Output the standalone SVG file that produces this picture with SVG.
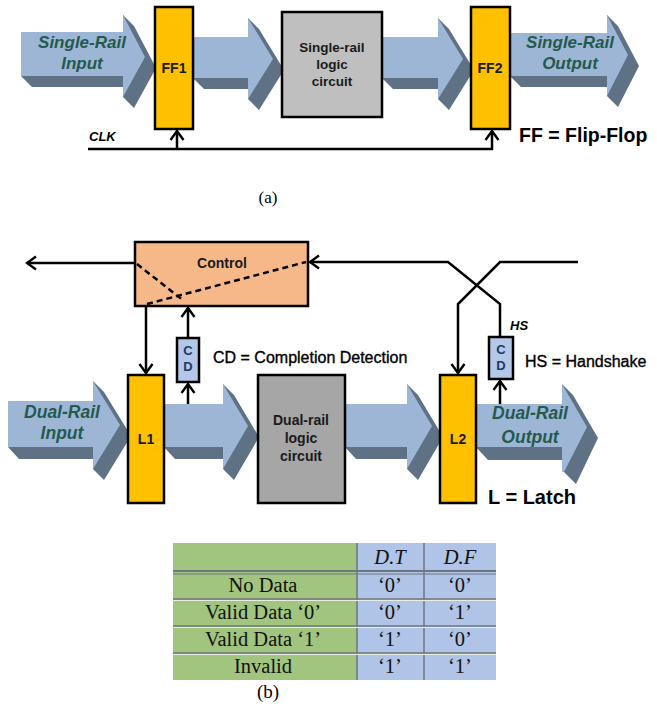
<svg xmlns="http://www.w3.org/2000/svg" width="657" height="707" viewBox="0 0 657 707">
<style>
.front{fill:#9DB6D6}
.side{fill:#5E7185}
.arrtxt{font-family:"Liberation Sans",Arial,sans-serif;font-weight:bold;font-style:italic;fill:#245A4E;text-anchor:middle}
.lab{font-family:"Liberation Sans",Arial,sans-serif;font-weight:bold;fill:#1a1a1a;text-anchor:middle}
.latch{fill:#FFC000;stroke:#000;stroke-width:2.5}
.conn{fill:none;stroke:#000;stroke-width:2.5}
.dash{fill:none;stroke:#000;stroke-width:2.5;stroke-dasharray:6,4}
.leg{font-family:"Liberation Sans",Arial,sans-serif;fill:#000}
.cd{fill:#B4C7E7;stroke:#000;stroke-width:2.5}
.cdt{font-family:"Liberation Sans",Arial,sans-serif;font-weight:bold;font-size:13px;fill:#1F3864;text-anchor:middle}
.tt{font-family:"Liberation Serif","Times New Roman",serif;font-size:20.5px;fill:#111;text-anchor:middle}
</style>
<defs>
<marker id="ah" viewBox="-11 -8 13 16" markerWidth="13" markerHeight="16" refX="0" refY="0" orient="auto" markerUnits="userSpaceOnUse">
<path d="M-9,-6.5 L0,0 L-9,6.5" fill="none" stroke="#000" stroke-width="2.4"/>
</marker>
</defs>

<!-- (a) arrows -->
<g id="arrow-a-in">
<path class="side" d="M21,32 L123,32 L123,15 L134,26 L156,68 L134,108 L123,97 L123,87 L32,87 L21,76 Z"/>
<path class="front" d="M21,32 L123,32 L123,15 L145,57 L123,97 L123,76 L21,76 Z"/>
<text class="arrtxt" x="82" y="48" font-size="17">Single-Rail</text>
<text class="arrtxt" x="82" y="69" font-size="17">Input</text>
</g>
<g id="arrow-a-1">
<path class="side" d="M193,37 L248,37 L248,18 L259,29 L284,70 L259,110 L248,99 L248,89 L204,89 L193,78 Z"/>
<path class="front" d="M193,37 L248,37 L248,18 L273,59 L248,99 L248,78 L193,78 Z"/>
</g>
<g id="arrow-a-2">
<path class="side" d="M382,37 L438,37 L438,18 L449,29 L474,70 L449,110 L438,99 L438,89 L393,89 L382,78 Z"/>
<path class="front" d="M382,37 L438,37 L438,18 L463,59 L438,99 L438,78 L382,78 Z"/>
</g>
<g id="arrow-a-out">
<path class="side" d="M510,33 L607,33 L607,15 L618,26 L639,66 L618,107 L607,96 L607,87 L521,87 L510,76 Z"/>
<path class="front" d="M510,33 L607,33 L607,15 L628,55 L607,96 L607,76 L510,76 Z"/>
<text class="arrtxt" x="570" y="48" font-size="17">Single-Rail</text>
<text class="arrtxt" x="570" y="69" font-size="17">Output</text>
</g>

<g id="ff1">
<rect class="latch" x="155" y="7" width="38" height="122"/>
<text class="lab" x="174" y="73" font-size="14">FF1</text>
</g>
<g id="logic-a">
<rect x="282" y="12" width="100" height="105" fill="#BFBFBF" stroke="#000" stroke-width="2.5"/>
<text class="lab" x="332" y="52" font-size="13.5">Single-rail</text>
<text class="lab" x="332" y="69" font-size="13.5">logic</text>
<text class="lab" x="332" y="86" font-size="13.5">circuit</text>
</g>
<g id="ff2">
<rect class="latch" x="471" y="7" width="39" height="122"/>
<text class="lab" x="490" y="73" font-size="14">FF2</text>
</g>

<g id="connectors-a">
<path class="conn" d="M88,149 L492,149 L492,131" marker-end="url(#ah)"/>
<path class="conn" d="M177,149 L177,131" marker-end="url(#ah)"/>
</g>
<text x="89" y="141" font-family="Liberation Sans,Arial,sans-serif" font-weight="bold" font-style="italic" font-size="13">CLK</text>
<text class="leg" x="519" y="142" font-size="19.5" font-weight="bold">FF = Flip-Flop</text>
<text x="268" y="203" font-family="Liberation Serif,Times New Roman,serif" font-size="17" text-anchor="middle">(a)</text>

<!-- (b) arrows -->
<g id="arrow-b-in">
<path class="side" d="M8,401 L93,401 L93,381 L104,392 L131,436 L104,480 L93,469 L93,459 L19,459 L8,447 Z"/>
<path class="front" d="M8,401 L93,401 L93,381 L120,425 L93,469 L93,447 L8,447 Z"/>
<text class="arrtxt" x="62" y="418" font-size="17.5">Dual-Rail</text>
<text class="arrtxt" x="62" y="439" font-size="17.5">Input</text>
</g>
<g id="arrow-b-1">
<path class="side" d="M164,404 L223,404 L223,384 L234,395 L259,437 L234,480 L223,469 L223,459 L175,459 L164,447 Z"/>
<path class="front" d="M164,404 L223,404 L223,384 L248,426 L223,469 L223,447 L164,447 Z"/>
</g>
<g id="arrow-b-2">
<path class="side" d="M345,404 L407,404 L407,384 L418,395 L443,437 L418,480 L407,469 L407,459 L356,459 L345,447 Z"/>
<path class="front" d="M345,404 L407,404 L407,384 L432,426 L407,469 L407,447 L345,447 Z"/>
</g>
<g id="arrow-b-out">
<path class="side" d="M476,404 L562,404 L562,384 L573,395 L598,438 L576,484 L564,472 L562,472 L562,460 L488,460 L476,447 Z"/>
<path class="front" d="M476,404 L562,404 L562,384 L587,427 L564,472 L562,472 L562,447 L476,447 Z"/>
<text class="arrtxt" x="530" y="419" font-size="17.5">Dual-Rail</text>
<text class="arrtxt" x="530" y="443" font-size="17.5">Output</text>
</g>

<g id="control">
<rect x="135" y="242" width="173" height="64" fill="#F6B889" stroke="#000" stroke-width="2.5"/>
<text class="lab" x="222" y="268" font-size="14">Control</text>
</g>
<g id="l1">
<rect class="latch" x="128" y="375" width="36" height="128"/>
<text class="lab" x="146" y="444" font-size="14">L1</text>
</g>
<g id="logic-b">
<rect x="258" y="375" width="87" height="128" fill="#A6A6A6" stroke="#000" stroke-width="2.5"/>
<text class="lab" x="301" y="425" font-size="14">Dual-rail</text>
<text class="lab" x="301" y="443" font-size="14">logic</text>
<text class="lab" x="301" y="461" font-size="14">circuit</text>
</g>
<g id="l2">
<rect class="latch" x="440" y="375" width="36" height="128"/>
<text class="lab" x="458" y="444" font-size="14">L2</text>
</g>
<g id="cd1">
<rect class="cd" x="177" y="338" width="22" height="44"/>
<text class="cdt" x="188" y="355">C</text>
<text class="cdt" x="188" y="371">D</text>
</g>
<g id="cd2">
<rect class="cd" x="489" y="337" width="24" height="42"/>
<text class="cdt" x="501" y="354">C</text>
<text class="cdt" x="501" y="370">D</text>
</g>

<g id="connectors-b">
<path class="conn" d="M135,263 L27,263" marker-end="url(#ah)"/>
<path class="conn" d="M146,306 L146,373" marker-end="url(#ah)"/>
<path class="conn" d="M188,338 L188,308" marker-end="url(#ah)"/>
<path class="conn" d="M188,404 L188,384" marker-end="url(#ah)"/>
<path class="conn" d="M500,337 L500,304 L448,262 L310,262" marker-end="url(#ah)"/>
<path class="conn" d="M578,262 L500,262 L458,304 L458,373" marker-end="url(#ah)"/>
<path class="conn" d="M500,404 L500,381" marker-end="url(#ah)"/>
<path class="dash" d="M137,264 L184,301"/>
<path class="dash" d="M147,304 L306,262"/>
</g>
<text x="510" y="330" font-family="Liberation Sans,Arial,sans-serif" font-weight="bold" font-style="italic" font-size="13">HS</text>
<text class="leg" x="213" y="363" font-size="16" stroke="#000" stroke-width="0.35">CD = Completion Detection</text>
<text class="leg" x="525" y="367" font-size="16" stroke="#000" stroke-width="0.35">HS = Handshake</text>
<text class="leg" x="488" y="504" font-size="20" font-weight="bold">L = Latch</text>

<g id="table">
<rect x="173" y="543" width="184" height="137" fill="#A1C47E"/>
<rect x="357" y="543" width="139" height="137" fill="#AFC4E6"/>
<g stroke="#6E7780" stroke-width="1.5">
<line x1="173" y1="571" x2="496" y2="571" stroke-width="2"/>
<line x1="173" y1="574" x2="496" y2="574" stroke-width="1"/>
<line x1="173" y1="599" x2="496" y2="599"/>
<line x1="173" y1="626" x2="496" y2="626"/>
<line x1="173" y1="653" x2="496" y2="653"/>
<line x1="357" y1="543" x2="357" y2="680"/>
<line x1="424" y1="543" x2="424" y2="680"/>
</g>
<g stroke="#E8EEE0" stroke-width="1">
<line x1="173" y1="600.5" x2="496" y2="600.5"/>
<line x1="173" y1="627.5" x2="496" y2="627.5"/>
<line x1="173" y1="654.5" x2="496" y2="654.5"/>
</g>
<text class="tt" x="390" y="564" font-style="italic">D.T</text>
<text class="tt" x="460" y="564" font-style="italic">D.F</text>
<text class="tt" x="263" y="592">No Data</text>
<text class="tt" x="263" y="619">Valid Data ‘0’</text>
<text class="tt" x="263" y="646">Valid Data ‘1’</text>
<text class="tt" x="263" y="673">Invalid</text>
<text class="tt" x="390" y="592">‘0’</text>
<text class="tt" x="460" y="592">‘0’</text>
<text class="tt" x="390" y="619">‘0’</text>
<text class="tt" x="460" y="619">‘1’</text>
<text class="tt" x="390" y="646">‘1’</text>
<text class="tt" x="460" y="646">‘0’</text>
<text class="tt" x="390" y="673">‘1’</text>
<text class="tt" x="460" y="673">‘1’</text>
</g>
<text x="268" y="698" font-family="Liberation Serif,Times New Roman,serif" font-size="19" text-anchor="middle">(b)</text>
</svg>
